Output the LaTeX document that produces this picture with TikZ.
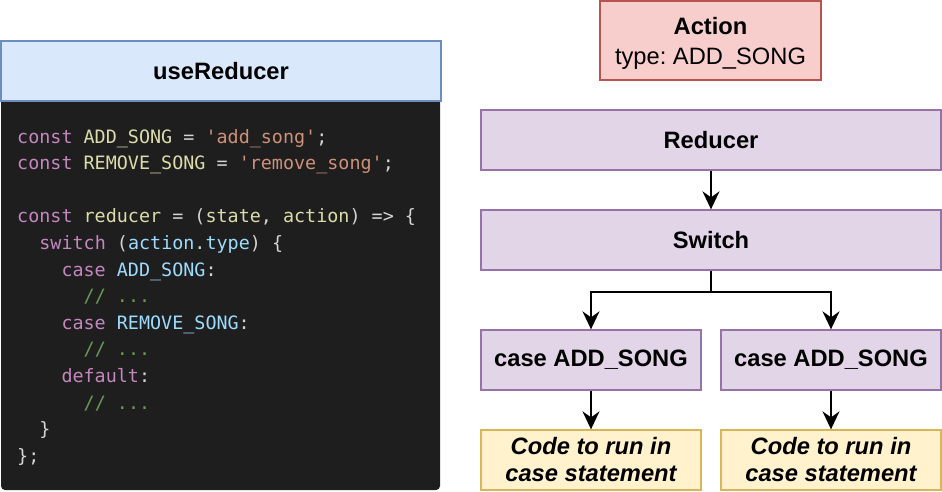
\documentclass[tikz,border=0pt]{standalone}
\usepackage{fontspec}
\setmainfont{Liberation Sans}
\setmonofont{DejaVu Sans Mono}
\usetikzlibrary{arrows.meta}
\frenchspacing

\definecolor{blueFill}{HTML}{DAE8FC}
\definecolor{blueLine}{HTML}{6C8EBF}
\definecolor{redFill}{HTML}{F8CECC}
\definecolor{redLine}{HTML}{B85450}
\definecolor{purpleFill}{HTML}{E1D5E7}
\definecolor{purpleLine}{HTML}{9673A6}
\definecolor{yellowFill}{HTML}{FFF2CC}
\definecolor{yellowLine}{HTML}{D6B656}
\definecolor{codeBg}{HTML}{1E1E1E}
\definecolor{codeKw}{HTML}{C586C0}
\definecolor{codeId}{HTML}{DCDCAA}
\definecolor{codeStr}{HTML}{CE9178}
\definecolor{codeVar}{HTML}{9CDCFE}
\definecolor{codeCom}{HTML}{6A9955}
\definecolor{codeTxt}{HTML}{D4D4D4}

\newcommand{\kw}[1]{\textcolor{codeKw}{#1}}
\newcommand{\idn}[1]{\textcolor{codeId}{#1}}
\newcommand{\str}[1]{\textcolor{codeStr}{#1}}
\newcommand{\var}[1]{\textcolor{codeVar}{#1}}
\newcommand{\com}[1]{\textcolor{codeCom}{#1}}

\tikzset{
  box/.style={draw, line width=1.3pt, inner sep=0pt, align=center,
    font=\fontsize{23.7}{28}\selectfont\bfseries},
  bluebox/.style={box, fill=blueFill, draw=blueLine},
  redbox/.style={box, fill=redFill, draw=redLine},
  purplebox/.style={box, fill=purpleFill, draw=purpleLine},
  yellowbox/.style={box, fill=yellowFill, draw=yellowLine,
    font=\fontsize{23.7}{27}\selectfont\bfseries\itshape},
  codeline/.style={anchor=base west, inner sep=0pt, text=codeTxt,
    font=\fontsize{18.4}{22}\selectfont\ttfamily},
  flow/.style={line width=1.8pt, -{Stealth[length=18pt, width=17pt, inset=6pt]}}
}

\begin{document}
\begin{tikzpicture}[x=1pt, y=-1pt]
\useasboundingbox (0,0) rectangle (942,492);

% code block
\fill[codeBg, rounded corners=4pt] (1,95) rectangle (440,490);
\node[bluebox, minimum width=440pt, minimum height=60pt] (usered) at (221,71) {useReducer};

\node[codeline] (c1) at (17,143) {\kw{const} \idn{ADD\_SONG} = \str{'add\_song'};};
\node[codeline] (c2) at (17,169.6) {\kw{const} \idn{REMOVE\_SONG} = \str{'remove\_song'};};
\node[codeline] (c4) at (17,222.8) {\kw{const} \idn{reducer} = (\idn{state}, \idn{action}) => \{};
\node[codeline] (c5) at (39.2,249.4) {\kw{switch} (\var{action}.\var{type}) \{};
\node[codeline] (c6) at (61.3,276) {\kw{case} \var{ADD\_SONG}:};
\node[codeline] (c7) at (83.5,302.6) {\com{// ...}};
\node[codeline] (c8) at (61.3,329.2) {\kw{case} \var{REMOVE\_SONG}:};
\node[codeline] (c9) at (83.5,355.8) {\com{// ...}};
\node[codeline] (c10) at (61.3,382.4) {\kw{default}:};
\node[codeline] (c11) at (83.5,409) {\com{// ...}};
\node[codeline] (c12) at (39.2,435.6) {\}};
\node[codeline] (c13) at (17,462.2) {\};};

% flow
\node[redbox, minimum width=221pt, minimum height=79pt] (action) at (710.5,40.5) {};
\node[align=center, inner sep=0pt, font=\fontsize{23.7}{29.5}\selectfont] (actiontxt)
  at ([yshift=-3pt]action.center) {\textbf{Action}\\type: ADD\_SONG};
\node[purplebox, minimum width=460pt, minimum height=60pt] (reducer) at (711,140) {Reducer};
\node[purplebox, minimum width=460pt, minimum height=60pt] (switch) at (711,240) {Switch};
\node[purplebox, minimum width=220pt, minimum height=60pt] (caseA) at (591,360) {case ADD\_SONG};
\node[purplebox, minimum width=220pt, minimum height=60pt] (caseB) at (831,360) {case ADD\_SONG};
\node[yellowbox, minimum width=220pt, minimum height=60pt] (codeA) at (591,460) {Code to run in\\case statement};
\node[yellowbox, minimum width=220pt, minimum height=60pt] (codeB) at (831,460) {Code to run in\\case statement};

\draw[flow] (reducer) -- (switch);
\draw[flow] (switch.south) -- ++(0,21) -| (caseA.north);
\draw[flow] (switch.south) -- ++(0,21) -| (caseB.north);
\draw[flow] (caseA) -- (codeA);
\draw[flow] (caseB) -- (codeB);
\end{tikzpicture}
\end{document}
